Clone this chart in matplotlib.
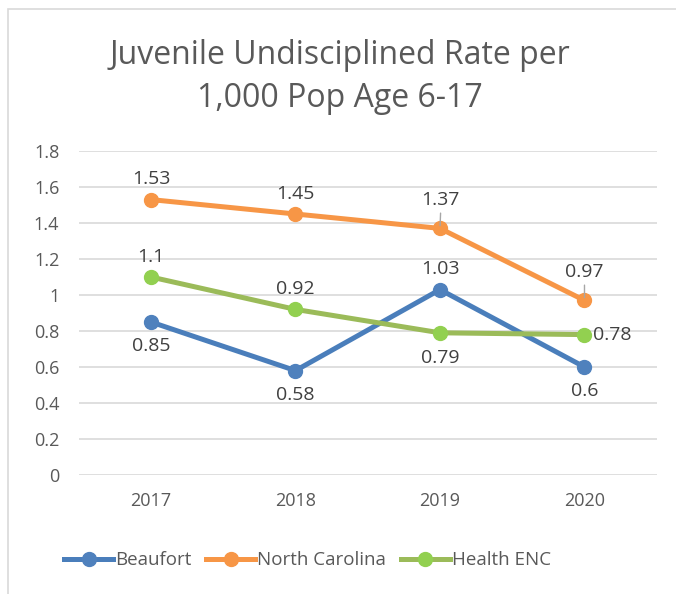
import matplotlib.pyplot as plt
import matplotlib.patches as patches

years = ['2017', '2018', '2019', '2020']
beaufort = [0.85, 0.58, 1.03, 0.6]
north_carolina = [1.53, 1.45, 1.37, 0.97]
health_enc = [1.1, 0.92, 0.79, 0.78]
y_ticks = [0, 0.2, 0.4, 0.6, 0.8, 1, 1.2, 1.4, 1.6, 1.8]

plt.rcParams['font.family'] = ['Open Sans', 'DejaVu Sans']
txt = '#595959'

fig = plt.figure(figsize=(6.76, 5.94), dpi=100)
ax = fig.add_axes([0.1165, 0.2003, 0.855, 0.5455])

# outer chart border
fig.patches.append(patches.Rectangle((0.012, -0.05), 1.05, 1.035, transform=fig.transFigure,
                                     fill=False, edgecolor='#d9d9d9', linewidth=1.2))

x = list(range(len(years)))
ax.plot(x, beaufort, color='#4A7EBB', lw=3.6, marker='o', ms=10, mfc='#4F81BD', mec='#4F81BD',
        label='Beaufort', zorder=3)
ax.plot(x, north_carolina, color='#F79646', lw=3.6, marker='o', ms=10, mfc='#F79646', mec='#F79646',
        label='North Carolina', zorder=3)
ax.plot(x, health_enc, color='#9BBB59', lw=3.6, marker='o', ms=10, mfc='#92D050', mec='#92D050',
        label='Health ENC', zorder=3)

fs = 14
lc = '#404040'
# data labels
for i, v in enumerate(beaufort):
    if i == 2:
        ax.annotate(str(v), (i, v), xytext=(0, 8), textcoords='offset points', ha='center', va='bottom',
                    fontsize=fs, color=lc)
    else:
        ax.annotate(str(v), (i, v), xytext=(0, -11), textcoords='offset points', ha='center', va='top',
                    fontsize=fs, color=lc)
for i, v in enumerate(north_carolina):
    off = 14 if i in (2, 3) else 8
    ax.annotate(str(v), (i, v), xytext=(0, off), textcoords='offset points', ha='center', va='bottom',
                fontsize=fs, color=lc)
    if i in (2, 3):
        ax.annotate('', (i, v), xytext=(0.5 if i == 2 else 0, 13), textcoords='offset points',
                    arrowprops=dict(arrowstyle='-', color='#a6a6a6', lw=1))
for i, v in enumerate(health_enc):
    if i < 2:
        ax.annotate(str(v), (i, v), xytext=(0, 8), textcoords='offset points', ha='center', va='bottom',
                    fontsize=fs, color=lc)
    elif i == 2:
        ax.annotate(str(v), (i, v), xytext=(0, -12), textcoords='offset points', ha='center', va='top',
                    fontsize=fs, color=lc)
    else:
        ax.annotate(str(v), (i, v), xytext=(6, 0), textcoords='offset points', ha='left', va='center',
                    fontsize=fs, color=lc)

ax.set_xlim(-0.5, 3.5)
ax.set_ylim(0, 1.8)
ax.set_yticks(y_ticks)
ax.set_yticklabels(['0', '0.2', '0.4', '0.6', '0.8', '1', '1.2', '1.4', '1.6', '1.8'])
ax.set_xticks(x)
ax.set_xticklabels(years)
ax.tick_params(length=0, labelsize=13, colors=txt, pad=12)
ax.tick_params(axis='y', pad=14)
ax.grid(axis='y', color='#d9d9d9', lw=1.2)
ax.set_axisbelow(True)
for s in ax.spines.values():
    s.set_visible(False)

fig.text(0.503, 0.870, 'Juvenile Undisciplined Rate per\n1,000 Pop Age 6-17', ha='center', va='center',
         fontsize=23, color=txt, linespacing=1.38)

fig.legend(loc='center', bbox_to_anchor=(0.455, 0.057), ncol=3, frameon=False, fontsize=13.5,
           handlelength=2.6, handletextpad=0.1, columnspacing=0.8, labelcolor=txt)

fig.savefig('out.png', dpi=100)
